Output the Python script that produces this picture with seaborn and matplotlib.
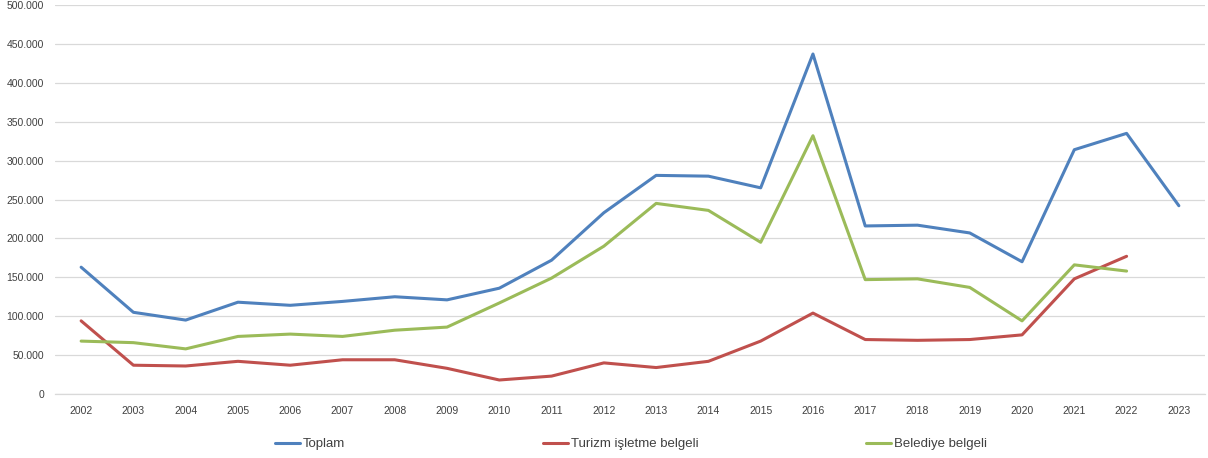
import numpy as np
import pandas as pd
import matplotlib
matplotlib.use("Agg")
import matplotlib.pyplot as plt
from matplotlib.ticker import FuncFormatter, MultipleLocator
from matplotlib.lines import Line2D
import seaborn as sns

years = list(range(2002, 2024))
toplam = [163000, 105000, 95000, 118000, 114000, 119000, 125000, 121000, 136000, 172000,
          233000, 281000, 280000, 265000, 437000, 216000, 217000, 207000, 170000, 314000,
          335000, 242000]
turizm = [94000, 37000, 36000, 42000, 37000, 44000, 44000, 33000, 18000, 23000,
          40000, 34000, 42000, 68000, 104000, 70000, 69000, 70000, 76000, 148000,
          177000, np.nan]
belediye = [68000, 66000, 58000, 74000, 77000, 74000, 82000, 86000, 117000, 149000,
            190000, 245000, 236000, 195000, 332000, 147000, 148000, 137000, 94000, 166000,
            158000, np.nan]
series_names = ["Toplam", "Turizm işletme belgeli", "Belediye belgeli"]
colors = ["#4F81BD", "#C0504D", "#9BBB59"]

df = pd.DataFrame({"Yıl": years * 3,
                   "Değer": toplam + turizm + belediye,
                   "Seri": [series_names[0]] * 22 + [series_names[1]] * 22 + [series_names[2]] * 22})
df = df.dropna()

sns.set_theme(style="white")
plt.rcParams['font.family'] = ['Liberation Sans', 'DejaVu Sans']

fig = plt.figure(figsize=(12.08, 4.58), dpi=100)
ax = fig.add_axes([55/1208, 1 - 394/458, 1150/1208, 389/458])

sns.lineplot(data=df, x="Yıl", y="Değer", hue="Seri", hue_order=series_names,
             palette=colors, linewidth=2.2, ax=ax, legend=False)

ax.set_xlim(2001.5, 2023.5)
ax.set_ylim(0, 500000)
ax.set_xticks(years)
ax.set_xticklabels([str(y) for y in years], fontsize=7.5, color="#404040")
ax.yaxis.set_major_locator(MultipleLocator(50000))
ax.yaxis.set_major_formatter(FuncFormatter(lambda v, p: f"{int(v):,}".replace(",", ".")))
ax.tick_params(axis="y", labelsize=7.5, labelcolor="#404040", length=0, pad=8)
ax.tick_params(axis="x", length=0, pad=9)
ax.grid(axis="y", color="#D9D9D9", linewidth=0.9)
ax.set_axisbelow(True)
for s in ["top", "right", "left"]:
    ax.spines[s].set_visible(False)
ax.spines["bottom"].set_color("#D9D9D9")
ax.spines["bottom"].set_linewidth(0.9)
ax.set_xlabel("")
ax.set_ylabel("")

legend_x = [275, 543, 866]
for name, c, lx in zip(series_names, colors, legend_x):
    leg = fig.legend([Line2D([], [], color=c, linewidth=2.2)], [name], loc="center left",
                     bbox_to_anchor=(lx / 1208, 1 - 444 / 458), frameon=False, fontsize=9.5,
                     handlelength=1.9, handletextpad=0.2, borderpad=0, borderaxespad=0,
                     labelcolor="#404040")

fig.savefig("out.png", dpi=100, facecolor="white")
